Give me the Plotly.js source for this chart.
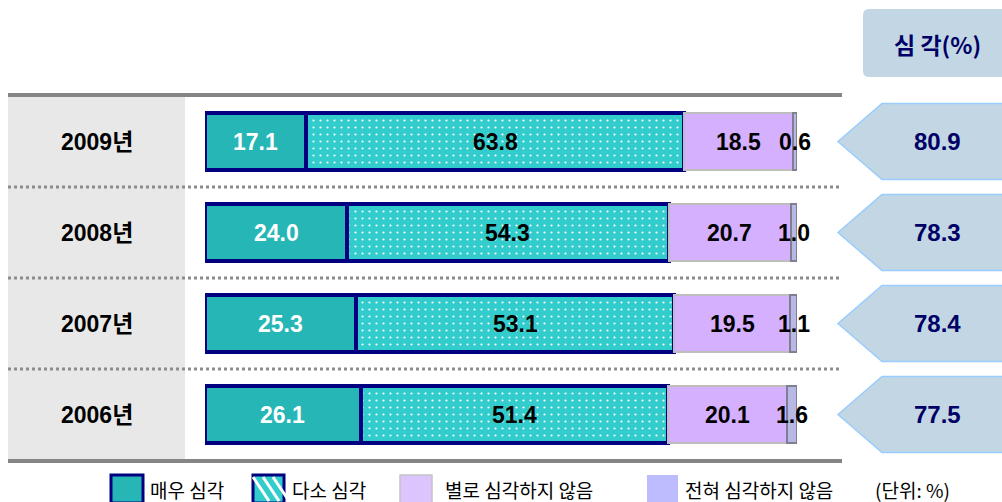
<!DOCTYPE html>
<html><head><meta charset="utf-8">
<script src="https://cdn.plot.ly/plotly-3.0.1.min.js"></script>
<style>html,body{margin:0;padding:0;background:#fff;overflow:hidden}</style>
</head><body><div id="chart" style="width:1002px;height:502px"></div>
<script>
// ---- data ----
const years = ['2009년', '2008년', '2007년', '2006년'];
const seriesNames = ['매우 심각', '다소 심각', '별로 심각하지 않음', '전혀 심각하지 않음'];
const verySerious = [17.1, 24.0, 25.3, 26.1];
const somewhatSerious = [63.8, 54.3, 53.1, 51.4];
const notVerySerious = [18.5, 20.7, 19.5, 20.1];
const notAtAll = [0.6, 1.0, 1.1, 1.6];
const seriousTotal = [80.9, 78.3, 78.4, 77.5];
const headerText = '심 각(%)';
const unitText = '(단위: %)';

// ---- layout geometry (pixels) ----
const W = 1002, H = 502;
const M = {l: 205, r: 205, t: 96, b: 42};
const PW = W - M.l - M.r, PH = H - M.t - M.b;
const px = x => (x - M.l) / PW;
const py = y => (H - M.b - y) / PH;
const rowCenter = i => M.t + (i + 0.5) * PH / years.length;

const FONT = 'Liberation Sans, Arial, "Noto Sans CJK KR", sans-serif';
const KFONT = '"Noto Sans CJK KR", "Liberation Sans", sans-serif';
const NAVY = '#000080';

const series = [verySerious, somewhatSerious, notVerySerious, notAtAll];
const styles = [
  {color: '#26b6b6', line: {color: NAVY, width: 4}},
  {color: '#33cccc', line: {color: NAVY, width: 4},
   pattern: {shape: '.', fgcolor: '#ffffff', bgcolor: '#33cccc', size: 7, solidity: 0.07, fillmode: 'replace'}},
  {color: '#d5b0ff', line: {color: '#bdbdbd', width: 2}},
  {color: '#b8b8e6', line: {color: '#7f7f8f', width: 2}}
];
const labelColors = ['#ffffff', '#000000', '#000000', '#000000'];

const traces = series.map((vals, k) => ({
  type: 'bar', orientation: 'h', name: seriesNames[k],
  y: years, x: vals, width: 0.62,
  marker: styles[k], hoverinfo: 'skip', showlegend: false
}));

const annotations = [];
const shapes = [];
const ann = o => annotations.push(Object.assign({showarrow: false, xanchor: 'center', yanchor: 'middle'}, o));

// background column & rules
shapes.push({type: 'rect', xref: 'paper', yref: 'paper', layer: 'below',
  x0: px(8), x1: px(185), y0: py(460), y1: py(95), fillcolor: '#e8e8e8', line: {width: 0}});
shapes.push({type: 'line', xref: 'paper', yref: 'paper', layer: 'below',
  x0: px(8), x1: px(842), y0: py(95), y1: py(95), line: {color: '#858585', width: 4}});
shapes.push({type: 'line', xref: 'paper', yref: 'paper', layer: 'below',
  x0: px(8), x1: px(842), y0: py(461), y1: py(461), line: {color: '#858585', width: 4}});
for (let i = 1; i < years.length; i++) {
  const y = M.t + i * PH / years.length;
  shapes.push({type: 'line', xref: 'paper', yref: 'paper', layer: 'below',
    x0: px(8), x1: px(842), y0: py(y), y1: py(y), line: {color: '#8c8c8c', width: 3, dash: 'dot'}});
}

// bar value labels, year labels, arrows
years.forEach((yr, i) => {
  const total = series.reduce((s, vals) => s + vals[i], 0);
  let cum = 0;
  series.forEach((vals, k) => {
    const v = vals[i];
    ann({xref: 'x', yref: 'y', x: (cum + v / 2) / total * 100, y: yr, text: v.toFixed(1),
      font: {family: FONT, size: 23, color: labelColors[k], weight: 'bold'}});
    cum += v;
  });
  ann({xref: 'paper', yref: 'y', x: px(97), y: yr, text: yr,
    font: {family: FONT, size: 23, color: '#000000', weight: 'bold'}});
  const cy = rowCenter(i);
  const pts = [[838, cy], [882, cy - 38], [1010, cy - 38], [1010, cy + 38], [882, cy + 38]];
  shapes.push({type: 'path', xref: 'paper', yref: 'paper',
    path: 'M' + pts.map(p => px(p[0]) + ',' + py(p[1])).join('L') + 'Z',
    fillcolor: '#c2d7e3', line: {color: '#99ccff', width: 1.5}});
  ann({xref: 'paper', yref: 'y', x: px(937), y: yr, text: seriousTotal[i].toFixed(1),
    font: {family: FONT, size: 24, color: '#000066', weight: 'bold'}});
});

// header box
(function () {
  const x0 = 863, x1 = 1012, y0 = 9, y1 = 77, r = 6;
  const path = `M${px(x0 + r)},${py(y0)} L${px(x1)},${py(y0)} L${px(x1)},${py(y1)} L${px(x0 + r)},${py(y1)} ` +
    `Q${px(x0)},${py(y1)} ${px(x0)},${py(y1 - r)} L${px(x0)},${py(y0 + r)} Q${px(x0)},${py(y0)} ${px(x0 + r)},${py(y0)} Z`;
  shapes.push({type: 'path', xref: 'paper', yref: 'paper', path: path, fillcolor: '#c2d7e3', line: {width: 0}});
  ann({xref: 'paper', yref: 'paper', x: px(937), y: py(44), text: headerText,
    font: {family: KFONT, size: 23, color: '#000066', weight: 'bold'}});
})();

// custom legend
const legendBoxes = [
  {x0: 111, x1: 143, fill: '#26b6b6', line: {color: NAVY, width: 3}, tx: 148},
  {x0: 253, x1: 284, fill: '#33cccc', line: {color: NAVY, width: 3}, tx: 290, stripes: true},
  {x0: 400, x1: 432, fill: '#dcc4ff', line: {color: '#c4c4c4', width: 1.5}, tx: 443},
  {x0: 647, x1: 678, fill: '#bcbcff', line: {width: 0}, tx: 683}
];
const ly0 = 475, ly1 = 503;
legendBoxes.forEach((b, k) => {
  shapes.push({type: 'rect', xref: 'paper', yref: 'paper', x0: px(b.x0), x1: px(b.x1), y0: py(ly1), y1: py(ly0),
    fillcolor: b.fill, line: b.line});
  if (b.stripes) {
    [[-2, 8], [8, 18], [18, 28]].forEach(([a, c]) => {
      shapes.push({type: 'line', xref: 'paper', yref: 'paper',
        x0: px(b.x0 + a + 2), y0: py(ly0 + 2), x1: px(b.x0 + c + 8), y1: py(ly1 - 2),
        line: {color: '#ffffff', width: 3}});
    });
  }
  ann({xref: 'paper', yref: 'paper', x: px(b.tx), y: py(489), xanchor: 'left', text: seriesNames[k],
    font: {family: KFONT, size: 19, color: '#000000'}});
});
ann({xref: 'paper', yref: 'paper', x: px(873), y: py(489), xanchor: 'left', text: unitText,
  font: {family: KFONT, size: 19, color: '#000000'}});

const layout = {
  width: W, height: H, margin: M, barmode: 'stack', barnorm: 'percent',
  paper_bgcolor: '#ffffff', plot_bgcolor: 'rgba(0,0,0,0)',
  xaxis: {range: [0, 100], visible: false, fixedrange: true},
  yaxis: {type: 'category', categoryarray: years, range: [3.5, -0.5], visible: false, fixedrange: true},
  shapes: shapes, annotations: annotations, showlegend: false
};
Plotly.newPlot('chart', traces, layout, {displayModeBar: false, staticPlot: true});
</script></body></html>
